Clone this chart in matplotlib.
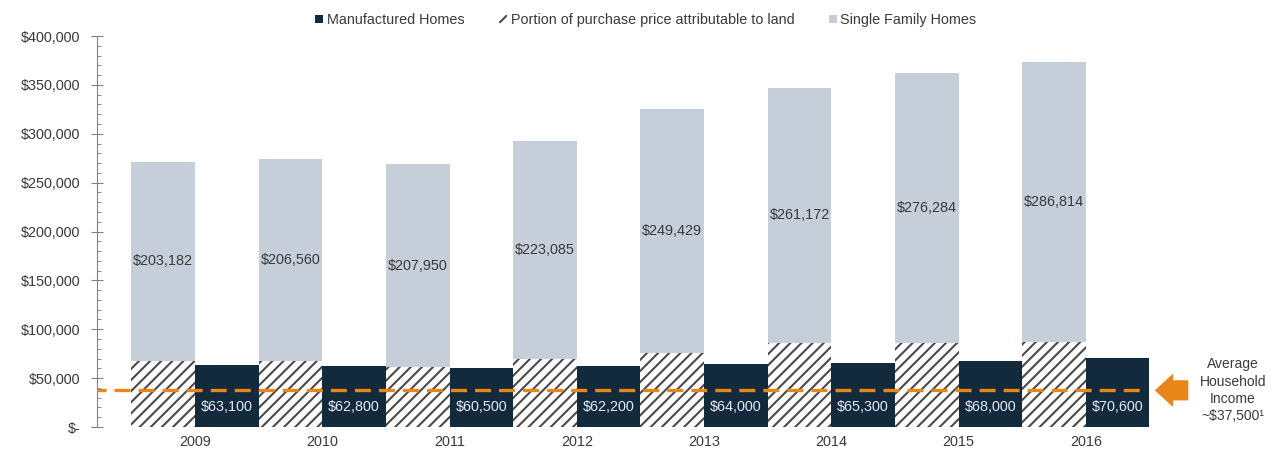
import numpy as np
import matplotlib
matplotlib.use("Agg")
import matplotlib.pyplot as plt
from matplotlib.ticker import MultipleLocator, FixedLocator

plt.rcParams["font.family"] = ["Liberation Sans", "DejaVu Sans"]
plt.rcParams["hatch.linewidth"] = 1.5
plt.rcParams["lines.scale_dashes"] = False

# Price data by year
years = ["2009", "2010", "2011", "2012", "2013", "2014", "2015", "2016"]
manufactured = [63100, 62800, 60500, 62200, 64000, 65300, 68000, 70600]
land_portion = [68000, 67500, 61000, 70000, 76000, 86000, 86000, 87000]
single_family = [203182, 206560, 207950, 223085, 249429, 261172, 276284, 286814]
avg_income = 37500

y_ticks = [0, 50000, 100000, 150000, 200000, 250000, 300000, 350000, 400000]
y_tick_labels = ["$-", "$50,000", "$100,000", "$150,000", "$200,000",
                 "$250,000", "$300,000", "$350,000", "$400,000"]

navy = "#132a3d"
grey = "#c6ced9"
hatch_col = "#4a4a4a"
orange = "#e8861a"
text_col = "#3a3a3a"

fig = plt.figure(figsize=(12.84, 4.53), dpi=100)
ax = fig.add_axes([97 / 1284, 26 / 453, 1055 / 1284, 391 / 453])

x = np.arange(len(years))
w = 0.5

# single family: land portion (hatched) with the remaining price stacked on top
ax.bar(x - w / 2, land_portion, width=w, color="white", edgecolor=hatch_col,
       linewidth=0, hatch="///", label="Portion of purchase price attributable to land")
ax.bar(x - w / 2, single_family, width=w, bottom=land_portion, color=grey,
       linewidth=0, label="Single Family Homes")
ax.bar(x + w / 2, manufactured, width=w, color=navy, linewidth=0,
       label="Manufactured Homes")

for i in range(len(years)):
    ax.text(x[i] - w / 2, land_portion[i] + single_family[i] / 2,
            f"${single_family[i]:,}", ha="center", va="center",
            fontsize=10.4, color=text_col)
    ax.text(x[i] + w / 2, 20000, f"${manufactured[i]:,}", ha="center",
            va="center", fontsize=10.4, color="#e4e9ef")

# average household income reference line
ax.plot([-0.77, 7.45], [avg_income, avg_income], color=orange, lw=2.4,
        linestyle=(5, (11.5, 5.8)), clip_on=False, zorder=5)
ax.annotate("", xy=(7.55, avg_income), xytext=(7.8, avg_income),
            annotation_clip=False,
            arrowprops=dict(arrowstyle="simple,head_length=12,head_width=22,tail_width=13.5",
                            color=orange, shrinkA=0, shrinkB=0, mutation_scale=1))
ax.text(8.155, avg_income, "Average\nHousehold\nIncome\n~$37,500\u00b9",
        ha="center", va="center", fontsize=10, color=text_col,
        linespacing=1.3, clip_on=False)

ax.set_xlim(-0.77, 7.52)
ax.set_ylim(0, 400000)
ax.set_xticks(x)
ax.set_xticklabels(years)
ax.yaxis.set_major_locator(FixedLocator(y_ticks))
ax.set_yticklabels(y_tick_labels)
ax.yaxis.set_minor_locator(MultipleLocator(10000))

for s in ["top", "right", "bottom"]:
    ax.spines[s].set_visible(False)
ax.spines["left"].set_color("#808080")
ax.tick_params(axis="x", length=0, pad=6, labelsize=10.4, labelcolor=text_col)
ax.tick_params(axis="y", which="major", direction="inout", length=8,
               color="#808080", pad=8, labelsize=10.4, labelcolor=text_col)
ax.tick_params(axis="y", which="minor", direction="in", length=3, color="#808080")

handles, labels = ax.get_legend_handles_labels()
order = [2, 0, 1]
fig.legend([handles[i] for i in order], [labels[i] for i in order],
           loc="upper center", bbox_to_anchor=(0.503, 1.0), ncol=3,
           frameon=False, fontsize=10.4, handlelength=0.55, handleheight=0.55,
           handletextpad=0.25, columnspacing=2.4, labelcolor=text_col)

fig.savefig("out.png", dpi=100)
